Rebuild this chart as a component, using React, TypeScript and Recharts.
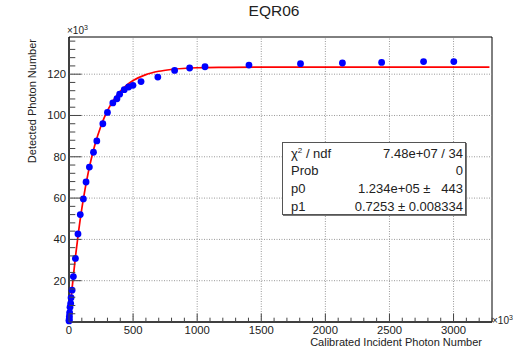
import { ComposedChart, Scatter, Line, XAxis, YAxis, ReferenceLine, ReferenceArea, Label } from 'recharts';

// measured points (x10^3)
const incident = [0.5, 1, 2, 3, 5, 8, 13, 16, 24, 34, 50, 70, 88, 112, 133, 159, 191, 217, 264, 300, 342, 374, 395, 431, 465, 499, 562, 693, 824, 941, 1061, 1404, 1806, 2133, 2439, 2766, 3002];
const detected = [0.5, 0.9, 1.6, 2.8, 4.5, 7.2, 9.0, 11.8, 15.4, 22.0, 30.8, 42.6, 52.0, 59.6, 67.8, 75.0, 82.2, 87.7, 96.0, 101.5, 106.1, 108.1, 110.3, 112.5, 113.8, 114.6, 116.4, 118.6, 121.8, 123.0, 123.6, 124.4, 125.1, 125.4, 125.7, 126.1, 126.1];

// fitted curve
const fitX = [15, 25, 50, 75, 100, 125, 150, 175, 200, 250, 300, 350, 400, 450, 500, 600, 700, 800, 1000, 1200, 1500, 2000, 3280];
const fitY = [10.4, 16.9, 31.4, 44.0, 54.9, 64.2, 72.3, 79.3, 85.3, 95.0, 102.3, 107.6, 111.7, 114.7, 116.9, 119.8, 121.4, 122.3, 123.1, 123.3, 123.4, 123.4, 123.4];

const xTicks = [0, 100, 200, 300, 400, 500, 600, 700, 800, 900, 1000, 1100, 1200, 1300, 1400, 1500, 1600, 1700, 1800, 1900, 2000, 2100, 2200, 2300, 2400, 2500, 2600, 2700, 2800, 2900, 3000, 3100, 3200, 3300];
const yTicks = [0, 4, 8, 12, 16, 20, 24, 28, 32, 36, 40, 44, 48, 52, 56, 60, 64, 68, 72, 76, 80, 84, 88, 92, 96, 100, 104, 108, 112, 116, 120, 124, 128, 132, 136];
const xMajor = [500, 1000, 1500, 2000, 2500, 3000];
const yMajor = [20, 40, 60, 80, 100, 120];

const statRows = [
  ['chi', '7.48e+07 / 34'],
  ['Prob', '0'],
  ['p0', '1.234e+05 \u00b1   443'],
  ['p1', '0.7253 \u00b1 0.008334'],
];

const points = incident.map((x, i) => ({ x, y: detected[i] }));
const fit = fitX.map((x, i) => ({ x, y: fitY[i] }));

const font = '"Liberation Sans", Arial, Helvetica, sans-serif';
const ink = '#222';

const XTick = (props: any) => {
  const { x, y, payload } = props;
  const v = payload.value;
  const major = v % 500 === 0;
  return (
    <g>
      <line x1={x} x2={x} y1={y} y2={y - (major ? 8.5 : 4.3)} stroke="#444" />
      {major && (
        <text x={x} y={y + 12} textAnchor="middle" fontSize={11.3} fontFamily={font} fill={ink}>
          {v}
        </text>
      )}
    </g>
  );
};

const YTick = (props: any) => {
  const { x, y, payload } = props;
  const v = payload.value;
  const major = v % 20 === 0;
  return (
    <g>
      <line x1={x} x2={x + (major ? 12.5 : 6.3)} y1={y} y2={y} stroke="#444" />
      {major && v > 0 && (
        <text x={x - 3} y={y + 4} textAnchor="end" fontSize={11.3} fontFamily={font} fill={ink}>
          {v}
        </text>
      )}
    </g>
  );
};

const Dot = (props: any) => <circle cx={props.cx} cy={props.cy} r={3.4} fill="#0000ff" />;

export default function App() {
  return (
    <div style={{ position: 'absolute', left: 0, top: 0, width: 513, height: 353, background: '#fff', fontFamily: font }}>
      <ComposedChart width={513} height={353} margin={{ top: 37, right: 21, bottom: 0, left: 0 }}>
        <XAxis
          type="number"
          dataKey="x"
          domain={[0, 3300]}
          ticks={xTicks}
          interval={0}
          tick={<XTick />}
          tickLine={false}
          tickSize={0}
          tickMargin={0}
          height={31}
          axisLine={{ stroke: '#000' }}
        >
          <Label
            content={(p: any) => (
              <text x={p.viewBox.x + p.viewBox.width - 10} y={p.viewBox.y + 23.5} textAnchor="end" fontSize={11} fontFamily={font} fill={ink}>
                Calibrated Incident Photon Number
              </text>
            )}
          />
        </XAxis>
        <YAxis
          type="number"
          dataKey="y"
          domain={[0, 138]}
          ticks={yTicks}
          interval={0}
          tick={<YTick />}
          tickLine={false}
          tickSize={0}
          tickMargin={0}
          width={69}
          axisLine={{ stroke: '#000' }}
        >
          <Label
            content={(p: any) => (
              <text
                x={p.viewBox.x + 35.5}
                y={p.viewBox.y + 2}
                textAnchor="end"
                transform={`rotate(-90, ${p.viewBox.x + 35.5}, ${p.viewBox.y + 2})`}
                fontSize={11}
                fontFamily={font}
                fill={ink}
              >
                Detected Photon Number
              </text>
            )}
          />
        </YAxis>
        {xMajor.map((v) => (
          <ReferenceLine key={'gx' + v} x={v} stroke="#999" strokeDasharray="1 1.5" />
        ))}
        {yMajor.map((v) => (
          <ReferenceLine key={'gy' + v} y={v} stroke="#999" strokeDasharray="1 1.5" />
        ))}
        <ReferenceArea x1={0} x2={3300} y1={0} y2={138} fill="none" stroke="#000" strokeWidth={1} />
        <Scatter data={points} dataKey="y" shape={<Dot />} isAnimationActive={false} />
        <Line data={fit} dataKey="y" type="monotone" stroke="#ff0000" strokeWidth={1.7} dot={false} isAnimationActive={false} />
      </ComposedChart>

      <div style={{ position: 'absolute', left: 0, width: 548, top: 2, textAlign: 'center', fontSize: 15.5, color: ink }}>EQR06</div>
      <div style={{ position: 'absolute', left: 67, top: 24, fontSize: 10, color: ink }}>
        ×10<sup style={{ fontSize: 7 }}>3</sup>
      </div>
      <div style={{ position: 'absolute', left: 492, top: 314, fontSize: 10, color: ink }}>
        ×10<sup style={{ fontSize: 7 }}>3</sup>
      </div>

      <div
        style={{
          position: 'absolute',
          left: 282,
          top: 142,
          width: 184,
          height: 73,
          border: '1px solid #555',
          boxShadow: '1px 1px 0 #777',
          background: '#fff',
          fontSize: 13,
          color: ink,
          paddingTop: 1.5,
          boxSizing: 'border-box',
        }}
      >
        {statRows.map(([k, v]) => (
          <div key={k} style={{ display: 'flex', justifyContent: 'space-between', height: 17.8, lineHeight: '17.8px', paddingLeft: 8, paddingRight: 2, whiteSpace: 'pre' }}>
            <span>
              {k === 'chi' ? (
                <>
                  χ<sup style={{ fontSize: 8, lineHeight: 0 }}>2</sup> / ndf
                </>
              ) : (
                k
              )}
            </span>
            <span>{v}</span>
          </div>
        ))}
      </div>
    </div>
  );
}
